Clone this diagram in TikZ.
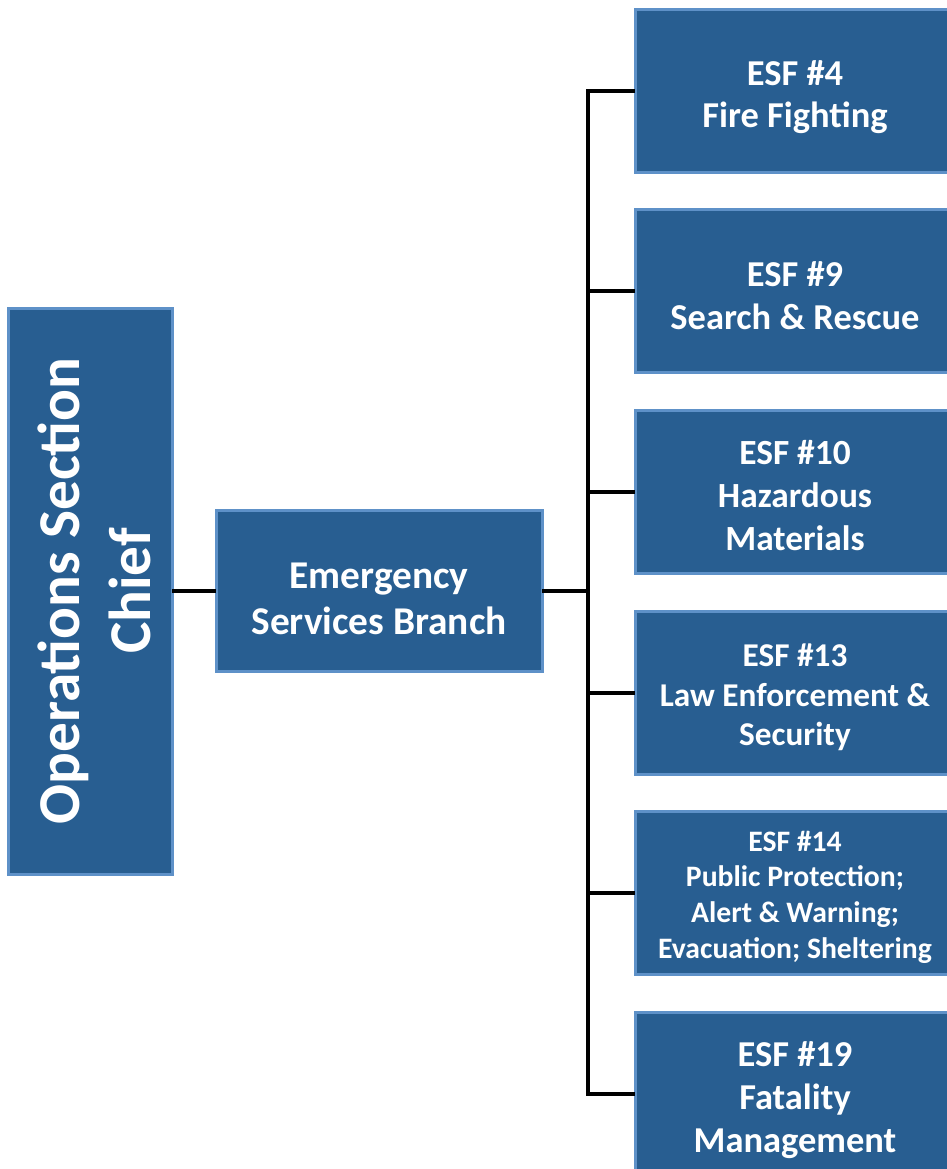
\documentclass[tikz,border=0pt]{standalone}
\usepackage{fontspec}
\setmainfont{Carlito}
\definecolor{boxfill}{HTML}{285E91}
\definecolor{boxline}{HTML}{5E91C8}
\newcommand\lowerby[1]{\rule{0pt}{\dimexpr0.7em+#1\relax}}
\begin{document}
\begin{tikzpicture}[x=1bp,y=-1bp,
  orgbox/.style={draw=boxline, line width=3bp, fill=boxfill, text=white, align=center,
    inner sep=0pt, outer sep=0pt, anchor=center},
  esfbox/.style={orgbox, minimum width=320bp, minimum height=163bp},
  link/.style={draw=black, line width=3.8bp}]
\useasboundingbox (0,0) rectangle (947,1169);
\clip (0,0) rectangle (947,1169);
% Operations Section Chief (rotated)
\node[orgbox, rotate=90, minimum width=566bp, minimum height=163bp,
  font=\bfseries\fontsize{59.5}{71}\selectfont] (ops) at (90.5,591)
  {\lowerby{8bp}Operations Section\\Chief};
% Emergency Services Branch
\node[orgbox, minimum width=326bp, minimum height=161bp,
  font=\bfseries\fontsize{39.5}{46}\selectfont] (esb) at (379,591)
  {\lowerby{14bp}Emergency\\Services Branch};
% ESF boxes
\node[esfbox, font=\bfseries\fontsize{36.6}{42.5}\selectfont] (esf4) at (795,91)
  {\lowerby{12bp}ESF \#4\\Fire Fighting};
\node[esfbox, font=\bfseries\fontsize{36.6}{43}\selectfont] (esf9) at (795,291)
  {\lowerby{8bp}ESF \#9\\Search \& Rescue};
\node[esfbox, font=\bfseries\fontsize{35.5}{43}\selectfont] (esf10) at (795,492)
  {\lowerby{6bp}ESF \#10\\Hazardous\\Materials};
\node[esfbox, font=\bfseries\fontsize{33.4}{39.5}\selectfont] (esf13) at (795,693)
  {\lowerby{8bp}ESF \#13\\Law Enforcement \&\\Security};
\node[esfbox, font=\bfseries\fontsize{29.8}{36}\selectfont] (esf14) at (795,893)
  {\lowerby{8bp}ESF \#14\\Public Protection;\\Alert \& Warning;\\Evacuation; Sheltering};
\node[esfbox, font=\bfseries\fontsize{36.6}{43}\selectfont] (esf19) at (795,1094)
  {\lowerby{12bp}ESF \#19\\Fatality\\Management};
% connectors
\coordinate (tx) at (588,0);
\coordinate (jt) at (esb.east -| tx);
\draw[link] (ops.south) -- (esb.west);
\draw[link] (esb.east) -- (jt);
\draw[link, line cap=rect] (tx |- esf4.west) -- (tx |- esf19.west);
\foreach \n in {esf4,esf9,esf10,esf13,esf14,esf19}
  \draw[link] (tx |- \n.west) -- (\n.west);
\end{tikzpicture}
\end{document}
